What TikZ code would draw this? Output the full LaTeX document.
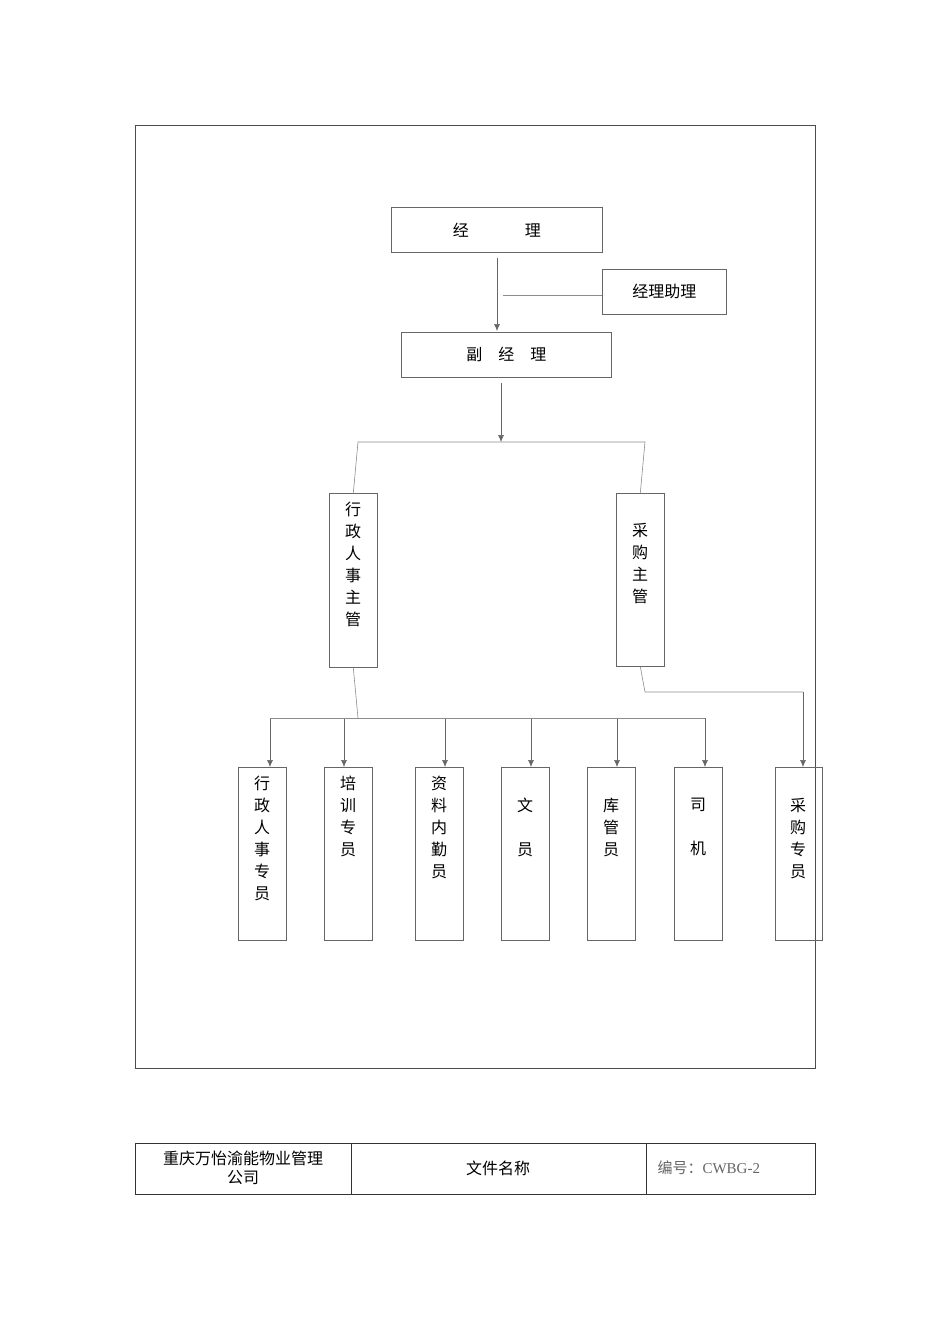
\documentclass[tikz,border=0pt]{standalone}
\usepackage{fontspec}
\usetikzlibrary{arrows.meta,calc}
\setmainfont{Noto Sans CJK SC}
\begin{document}
\begin{tikzpicture}[x=1pt,y=-1pt,
  box/.style={draw=black!60,line width=0.6pt},
  ln/.style={draw=black!45,line width=0.6pt},
  arr/.style={draw=black!60,line width=0.6pt,-{Latex[length=7pt,width=6pt]}},
  vt/.style={font=\fontsize{16}{22}\selectfont,align=center,anchor=north,inner sep=0pt}]
\useasboundingbox (0,0) rectangle (950,1344);
\fill[white] (0,0) rectangle (950,1344);
\draw[black!70,line width=0.7pt] (135,125) rectangle (815,1068);
% manager
\node[box,minimum width=211pt,minimum height=45pt,anchor=north west,font=\fontsize{16}{20}\selectfont,inner sep=0pt] (m) at (391,207) {经\hspace{3.5em}理};
\node[box,minimum width=124pt,minimum height=45pt,anchor=north west,font=\fontsize{16}{20}\selectfont,inner sep=0pt] (as) at (602,269) {经理助理\hspace{1.5em}};
\node[box,minimum width=210pt,minimum height=45pt,anchor=north west,font=\fontsize{16}{20}\selectfont,inner sep=0pt] (v) at (401,332) {副\hspace{1em}经\hspace{1em}理};
\coordinate (a1) at (497,258); \coordinate (a2) at (497,331);
\draw[arr] (a1) -- (a2);
\coordinate (h1) at (503,295);
\draw[ln] (h1) -- (as.west |- h1);
\coordinate (b1) at (501,383); \coordinate (b2) at (501,442);
\draw[arr] (b1) -- (b2);
% supervisors
\node[box,minimum width=48pt,minimum height=174pt,anchor=north west,inner sep=0pt] (s1) at (329,493) {};
\node[vt] at (353,502) {行\\政\\人\\事\\主\\管};
\node[box,minimum width=48pt,minimum height=173pt,anchor=north west,inner sep=0pt] (s2) at (616,493) {};
\node[vt] at (640,523) {采\\购\\主\\管};
\draw[ln] (s1.north) -- (358,442) -- (645,442) -- (s2.north);
% staff
\foreach \n/\x/\ax/\t/\ty in {p1/238/270/{行\\政\\人\\事\\专\\员}/776, p2/324/344/{培\\训\\专\\员}/776, p3/415/445/{资\\料\\内\\勤\\员}/776, p4/501/531/{文\\[22pt]员}/798, p5/587/617/{库\\管\\员}/798, p6/674/705/{司\\[22pt]机}/798}{
  \node[box,minimum width=48pt,minimum height=173pt,anchor=north west,inner sep=0pt] (\n) at (\x,767) {};
  \node[vt] at ($(\x,\ty)+(24,0)$) {\t};
  \draw[arr] (\ax,718) -- (\ax,767);
}
\draw[ln] (s1.south) -- (358,718);
\draw[ln] (270,718) -- (705,718);
\node[box,minimum width=47pt,minimum height=173pt,anchor=north west,inner sep=0pt] (p7) at (775,767) {};
\node[vt] at (798,798) {采\\购\\专\\员};
\draw[ln] (s2.south) -- (645,692) -- (803,692);
\draw[arr] (803,692) -- (803,767);
% footer
\draw[black!80,line width=0.8pt] (135,1143) rectangle (815,1194);
\draw[black!80,line width=0.8pt] (351,1143) -- (351,1194) (646,1143) -- (646,1194);
\node[font=\fontsize{16}{19}\selectfont,align=center] (f1) at (243,1168) {重庆万怡渝能物业管理\\公司};
\node[font=\fontsize{16}{19}\selectfont] (f2) at (498,1168) {文件名称};
\node[font=\fontsize{15}{19}\selectfont,text=black!60,anchor=west] (f3) at (654,1168) {编号：{\fontspec{Liberation Serif}CWBG-2}};
\end{tikzpicture}
\end{document}
